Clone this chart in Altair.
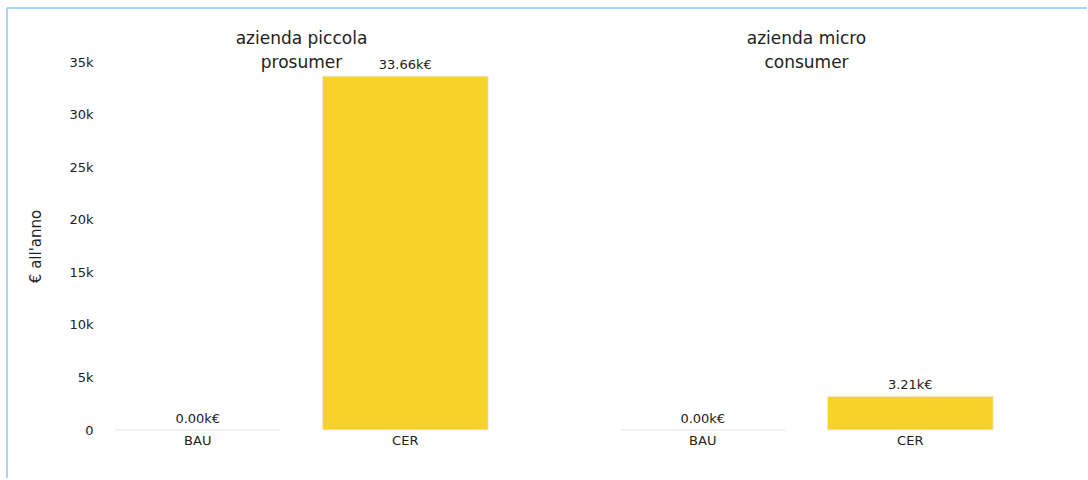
import altair as alt
import pandas as pd

FONT = "DejaVu Sans"

panels = [["azienda piccola", "prosumer"], ["azienda micro", "consumer"]]
scenarios = ["BAU", "CER"]
values_piccola = [0, 33660]
values_micro = [0, 3210]
y_ticks = [0, 5000, 10000, 15000, 20000, 25000, 30000, 35000]

BAR_COLOR = "#F7D229"
W, H = 415, 368


def panel(title_lines, vals, show_axis):
    df = pd.DataFrame({"scenario": scenarios, "valore": vals})
    x = alt.X("scenario:N", sort=scenarios, title=None,
              scale=alt.Scale(paddingInner=0.2, paddingOuter=0.1),
              axis=alt.Axis(labelAngle=0, ticks=False, domain=False, grid=False,
                            labelPadding=4, labelFontSize=13, labelFont=FONT,
                            labelColor="#222222"))
    if show_axis:
        yax = alt.Axis(values=y_ticks,
                       labelExpr="datum.value == 0 ? '0' : (datum.value / 1000) + 'k'",
                       ticks=False, domain=False, grid=False,
                       labelPadding=1, labelFontSize=13, labelFont=FONT, labelColor="#222222",
                       title="€ all'anno", titleFontSize=15, titleFont=FONT,
                       titleFontWeight="normal", titleColor="#222222", titlePadding=25)
    else:
        yax = None
    y = alt.Y("valore:Q", scale=alt.Scale(domain=[0, 35000], nice=False), axis=yax)
    base = alt.Chart(df)
    bars = base.mark_bar(color=BAR_COLOR, stroke="#eceff6", strokeWidth=1).encode(x=x, y=y)
    labels = base.transform_calculate(
        lab="format(datum.valore / 1000, '.2f') + 'k€'"
    ).mark_text(baseline="bottom", dy=-4, fontSize=13, font=FONT, color="#222222").encode(
        x=x, y=y, text="lab:N")
    layers = [bars, labels]
    title_offset = -10
    if show_axis:
        one = pd.DataFrame({"k": [0]})
        frame_color = "#a9d8f7"
        top = alt.Chart(one).mark_rule(color=frame_color, strokeWidth=2).encode(
            x=alt.value(-87), x2=alt.value(993), y=alt.value(-54))
        left = alt.Chart(one).mark_rule(color=frame_color, strokeWidth=2).encode(
            x=alt.value(-87), y=alt.value(-54), y2=alt.value(416))
        layers += [top, left]
        title_offset = -65  # compensate for the frame extending the group bounds
    return alt.layer(*layers).properties(
        width=W, height=H,
        title=alt.TitleParams(title_lines, fontSize=17, font=FONT, fontWeight="normal",
                              color="#222222", anchor="middle", offset=title_offset,
                              lineHeight=24, frame="group"))


chart = alt.hconcat(
    panel(panels[0], values_piccola, True),
    panel(panels[1], values_micro, False),
    spacing=90,
    bounds="flush",
).properties(
    padding={"left": 6, "top": 7, "right": 0, "bottom": 0}
).configure_view(stroke=None)

chart.save("out.html", embed_options={"renderer": "svg", "actions": False})
